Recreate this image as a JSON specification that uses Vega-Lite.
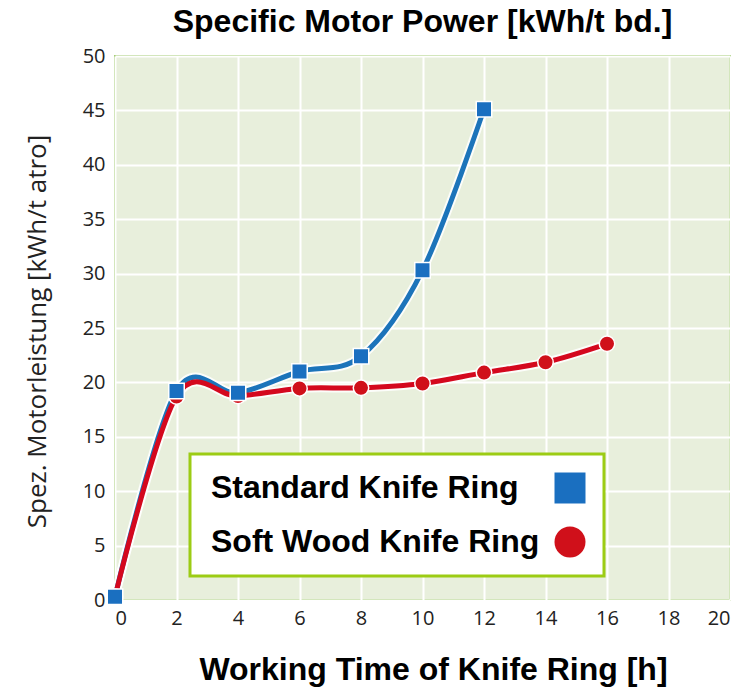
{
  "$schema": "https://vega.github.io/schema/vega-lite/v6.json",
  "width": 615,
  "height": 544,
  "autosize": {"type": "none"},
  "padding": {"left": 115, "top": 56, "right": 16, "bottom": 91},
  "background": "white",
  "title": {
    "text": "Specific Motor Power [kWh/t bd.]",
    "font": "Liberation Sans",
    "fontWeight": "bold",
    "fontSize": 32,
    "color": "#000000",
    "anchor": "middle",
    "frame": "group",
    "baseline": "alphabetic",
    "offset": 21,
    "dy": 39
  },
  "data": {
    "values": [
      {"t": 0, "p": 0.3, "series": "Soft Wood Knife Ring"},
      {"t": 2, "p": 18.7, "series": "Soft Wood Knife Ring"},
      {"t": 4, "p": 18.75, "series": "Soft Wood Knife Ring"},
      {"t": 6, "p": 19.45, "series": "Soft Wood Knife Ring"},
      {"t": 8, "p": 19.5, "series": "Soft Wood Knife Ring"},
      {"t": 10, "p": 19.9, "series": "Soft Wood Knife Ring"},
      {"t": 12, "p": 20.9, "series": "Soft Wood Knife Ring"},
      {"t": 14, "p": 21.85, "series": "Soft Wood Knife Ring"},
      {"t": 16, "p": 23.55, "series": "Soft Wood Knife Ring"},
      {"t": 0, "p": 0.3, "series": "Standard Knife Ring"},
      {"t": 2, "p": 19.2, "series": "Standard Knife Ring"},
      {"t": 4, "p": 19.05, "series": "Standard Knife Ring"},
      {"t": 6, "p": 21.0, "series": "Standard Knife Ring"},
      {"t": 8, "p": 22.4, "series": "Standard Knife Ring"},
      {"t": 10, "p": 30.3, "series": "Standard Knife Ring"},
      {"t": 12, "p": 45.1, "series": "Standard Knife Ring"}
    ]
  },
  "encoding": {
    "x": {
      "field": "t", "type": "quantitative",
      "scale": {"domain": [0, 20], "nice": false},
      "axis": {
        "values": [0, 2, 4, 6, 8, 10, 12, 14, 16, 18, 20],
        "title": "Working Time of Knife Ring [h]",
        "labelPadding": 8,
        "titleFont": "Liberation Sans",
        "titleFontWeight": "bold",
        "titleFontSize": 32,
        "titleColor": "#000000",
        "titleX": 318,
        "titleY": 69,
        "titleBaseline": "middle",
        "titleAlign": "center",
        "titleAnchor": null
      }
    },
    "y": {
      "field": "p", "type": "quantitative",
      "scale": {"domain": [0, 50], "nice": false},
      "axis": {
        "values": [0, 5, 10, 15, 20, 25, 30, 35, 40, 45, 50],
        "title": "Spez. Motorleistung [kWh/t atro]",
        "labelPadding": 10,
        "titleFont": "Open Sans",
        "titleFontWeight": "normal",
        "titleFontSize": 26,
        "titleColor": "#222222",
        "titleAngle": -90,
        "titleX": -78,
        "titleY": 275,
        "titleBaseline": "middle",
        "titleAlign": "center"
      }
    }
  },
  "layer": [
    {
      "mark": {"type": "line", "interpolate": "cardinal", "color": "#ffffff", "strokeWidth": 9, "opacity": 0.85},
      "encoding": {"detail": {"field": "series"}}
    },
    {
      "transform": [{"filter": "datum.series == 'Standard Knife Ring'"}],
      "mark": {"type": "line", "interpolate": "cardinal", "color": "#1c74ba", "strokeWidth": 5}
    },
    {
      "transform": [{"filter": "datum.series == 'Soft Wood Knife Ring'"}],
      "mark": {"type": "line", "interpolate": "cardinal", "color": "#d4081e", "strokeWidth": 5}
    },
    {
      "mark": {"type": "point", "filled": true, "size": 240, "stroke": "#ffffff", "strokeWidth": 1.5, "opacity": 1},
      "encoding": {
        "color": {
          "field": "series", "type": "nominal",
          "scale": {"domain": ["Standard Knife Ring", "Soft Wood Knife Ring"], "range": ["#1a6fc0", "#d0101a"]},
          "legend": {
            "title": null,
            "orient": "none",
            "legendX": 75,
            "legendY": 398,
            "direction": "vertical",
            "fillColor": "#ffffff",
            "strokeColor": "#9ccc14",
            "padding": 18,
            "rowPadding": 22,
            "symbolSize": 961,
            "symbolStrokeWidth": 0,
            "symbolOffset": 346,
            "labelFont": "Liberation Sans",
            "labelFontWeight": "bold",
            "labelFontSize": 32,
            "labelColor": "#000000",
            "labelAlign": "left",
            "labelOffset": -375,
            "labelLimit": 500,
            "encode": {"legend": {"update": {"strokeWidth": {"value": 3}}}}
          }
        },
        "shape": {
          "field": "series", "type": "nominal",
          "scale": {"domain": ["Standard Knife Ring", "Soft Wood Knife Ring"], "range": ["square", "circle"]},
          "legend": {
            "title": null,
            "orient": "none",
            "legendX": 75,
            "legendY": 398,
            "direction": "vertical",
            "fillColor": "#ffffff",
            "strokeColor": "#9ccc14",
            "padding": 18,
            "rowPadding": 22,
            "symbolSize": 961,
            "symbolStrokeWidth": 0,
            "symbolOffset": 346,
            "labelFont": "Liberation Sans",
            "labelFontWeight": "bold",
            "labelFontSize": 32,
            "labelColor": "#000000",
            "labelAlign": "left",
            "labelOffset": -375,
            "labelLimit": 500,
            "encode": {"legend": {"update": {"strokeWidth": {"value": 3}}}}
          }
        }
      }
    }
  ],
  "config": {
    "view": {"fill": "#e8efdc", "stroke": "#a6cc78", "strokeWidth": 2},
    "legend": {"strokeWidth": 3},
    "axis": {
      "grid": true,
      "gridColor": "#ffffff",
      "gridWidth": 2,
      "gridOpacity": 1,
      "ticks": false,
      "domain": false,
      "labelFont": "Open Sans",
      "labelFontSize": 20,
      "labelColor": "#222222"
    }
  }
}
